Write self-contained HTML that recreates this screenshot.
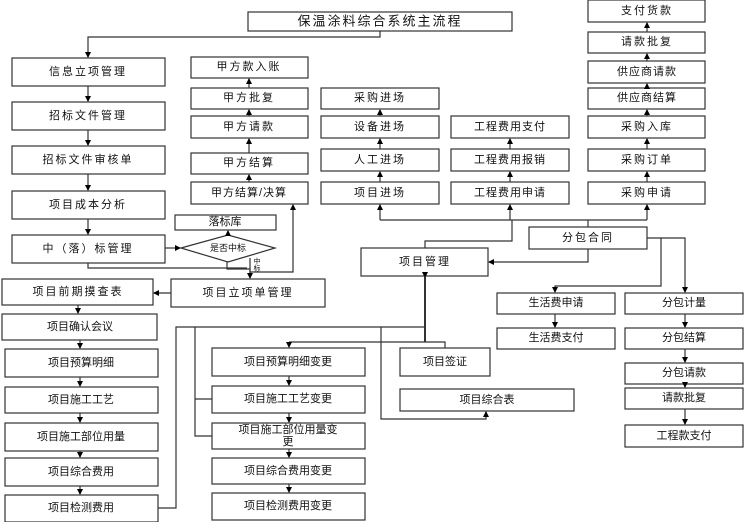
<html><head><style>body{margin:0;background:#fff}svg text{font-family:"Liberation Sans","Noto Sans CJK SC",sans-serif;font-size:11px;text-anchor:middle;dominant-baseline:central;fill:#111}</style></head><body>
<svg width="744" height="522" viewBox="0 0 744 522" xmlns="http://www.w3.org/2000/svg">
<defs><marker id="a" markerWidth="6" markerHeight="6" refX="5" refY="3" orient="auto" markerUnits="userSpaceOnUse"><path d="M0,0L6,3L0,6z" fill="#000"/></marker></defs>
<g fill="#fff" stroke="#333" stroke-width="1.2">
<rect x="248" y="12" width="264" height="19"/>
<rect x="12" y="58" width="153" height="28"/><rect x="12" y="102" width="153" height="28"/><rect x="12" y="146" width="153" height="28"/><rect x="12" y="191" width="153" height="28"/><rect x="12" y="235" width="153" height="28"/>
<rect x="175" y="215" width="101" height="15"/>
<path d="M181,248L228,235L275,248L228,262z"/>
<rect x="171" y="279" width="154" height="28"/><rect x="2" y="279" width="151" height="26"/>
<rect x="191" y="57" width="117" height="21"/><rect x="191" y="88" width="117" height="21"/><rect x="191" y="116" width="117" height="22"/><rect x="191" y="153" width="117" height="21"/><rect x="191" y="182" width="117" height="22"/>
<rect x="321" y="88" width="118" height="21"/><rect x="321" y="116" width="118" height="22"/><rect x="321" y="149" width="118" height="22"/><rect x="321" y="182" width="118" height="22"/>
<rect x="451" y="116" width="118" height="22"/><rect x="451" y="149" width="118" height="22"/><rect x="451" y="182" width="118" height="22"/>
<rect x="588" y="0" width="117" height="22"/><rect x="588" y="32" width="117" height="21"/><rect x="588" y="61" width="117" height="22"/><rect x="588" y="88" width="117" height="21"/><rect x="588" y="116" width="117" height="22"/><rect x="588" y="149" width="117" height="22"/><rect x="588" y="182" width="117" height="22"/>
<rect x="529" y="227" width="118" height="22"/><rect x="361" y="248" width="127" height="28"/>
<rect x="497" y="293" width="118" height="21"/><rect x="497" y="328" width="118" height="21"/>
<rect x="625" y="293" width="118" height="21"/><rect x="625" y="328" width="118" height="21"/><rect x="625" y="363" width="118" height="21"/><rect x="625" y="388" width="118" height="21"/><rect x="625" y="425" width="118" height="22"/>
<rect x="2" y="314" width="155" height="26"/><rect x="5" y="349" width="153" height="28"/><rect x="5" y="387" width="153" height="26"/><rect x="5" y="423" width="153" height="28"/><rect x="5" y="458" width="153" height="28"/><rect x="5" y="495" width="153" height="27"/>
<rect x="212" y="348" width="153" height="28"/><rect x="212" y="386" width="153" height="27"/><rect x="212" y="423" width="153" height="26"/><rect x="212" y="458" width="153" height="26"/><rect x="212" y="493" width="153" height="27"/>
<rect x="400" y="348" width="90" height="28"/><rect x="400" y="389" width="174" height="22"/>
</g>
<g fill="none" stroke="#333" stroke-width="1.2">
<path d="M380,31V37H88V57" marker-end="url(#a)"/>
<path d="M88,86V101" marker-end="url(#a)"/><path d="M88,130V145" marker-end="url(#a)"/><path d="M88,174V190" marker-end="url(#a)"/><path d="M88,219V234" marker-end="url(#a)"/>
<path d="M165,248H180" marker-end="url(#a)"/><path d="M228,235V231" marker-end="url(#a)"/>
<path d="M88,263V268H247"/><path d="M227,262V269H250V278" marker-end="url(#a)"/><path d="M250,258V272H293V205" marker-end="url(#a)"/>
<path d="M171,293H154" marker-end="url(#a)"/>
<path d="M249,182V175" marker-end="url(#a)"/><path d="M249,153V139" marker-end="url(#a)"/><path d="M249,116V110" marker-end="url(#a)"/><path d="M249,88V79" marker-end="url(#a)"/>
<path d="M380,182V172" marker-end="url(#a)"/><path d="M380,149V139" marker-end="url(#a)"/><path d="M380,116V110" marker-end="url(#a)"/>
<path d="M510,182V172" marker-end="url(#a)"/><path d="M510,149V139" marker-end="url(#a)"/>
<path d="M647,182V172" marker-end="url(#a)"/><path d="M647,149V139" marker-end="url(#a)"/><path d="M647,116V110" marker-end="url(#a)"/><path d="M647,88V84" marker-end="url(#a)"/><path d="M647,61V54" marker-end="url(#a)"/><path d="M647,32V23" marker-end="url(#a)"/>
<path d="M380,220H647"/><path d="M380,220V205" marker-end="url(#a)"/><path d="M510,220V205" marker-end="url(#a)"/><path d="M647,220V205" marker-end="url(#a)"/>
<path d="M588,227V220"/><path d="M425,248V241H512V220"/><path d="M588,249V262H489" marker-end="url(#a)"/>
<path d="M647,238H661V286H555V292" marker-end="url(#a)"/><path d="M661,238H685V292" marker-end="url(#a)"/>
<path d="M555,314V327" marker-end="url(#a)"/>
<path d="M685,314V327" marker-end="url(#a)"/><path d="M685,349V362" marker-end="url(#a)"/><path d="M685,384V387" marker-end="url(#a)"/><path d="M685,409V424" marker-end="url(#a)"/>
<path d="M78,305V313" marker-end="url(#a)"/><path d="M80,340V348" marker-end="url(#a)"/><path d="M80,377V386" marker-end="url(#a)"/><path d="M80,413V422" marker-end="url(#a)"/><path d="M80,451V457" marker-end="url(#a)"/><path d="M80,486V494" marker-end="url(#a)"/>
<path d="M289,376V385" marker-end="url(#a)"/><path d="M289,413V422" marker-end="url(#a)"/><path d="M289,449V457" marker-end="url(#a)"/><path d="M289,484V492" marker-end="url(#a)"/>
<path d="M425,277V342" stroke-width="2" marker-start="url(#a)"/><path d="M425,327H176V508H158"/>
<path d="M195,327V436H212M195,399H212"/>
<path d="M289,342H445V348M289,342V347" marker-end="url(#a)"/>
<path d="M381,327V419H486V412" marker-end="url(#a)"/>
</g>
<text x="380" y="21" style="font-size:13px;letter-spacing:2px">保温涂料综合系统主流程</text>
<text x="88" y="72" style="letter-spacing:2px">信息立项管理</text><text x="88" y="116" style="letter-spacing:2px">招标文件管理</text><text x="88" y="160" style="letter-spacing:2px">招标文件审核单</text><text x="88" y="205" style="letter-spacing:2px">项目成本分析</text><text x="88" y="249" style="letter-spacing:2px">中（落）标管理</text>
<text x="225" y="222">落标库</text><text x="228" y="248" style="font-size:9px">是否中标</text>
<text x="257" y="262" style="font-size:7px">中</text><text x="257" y="269" style="font-size:7px">标</text>
<text x="248" y="293" style="letter-spacing:2px">项目立项单管理</text><text x="78" y="292" style="letter-spacing:2px">项目前期摸查表</text>
<text x="249" y="67" style="letter-spacing:2px">甲方款入账</text><text x="249" y="98" style="letter-spacing:2px">甲方批复</text><text x="249" y="127" style="letter-spacing:2px">甲方请款</text><text x="249" y="163" style="letter-spacing:2px">甲方结算</text><text x="249" y="193" style="letter-spacing:1px">甲方结算/决算</text>
<text x="380" y="98" style="letter-spacing:2px">采购进场</text><text x="380" y="127" style="letter-spacing:2px">设备进场</text><text x="380" y="160" style="letter-spacing:2px">人工进场</text><text x="380" y="193" style="letter-spacing:2px">项目进场</text>
<text x="510" y="127" style="letter-spacing:1px">工程费用支付</text><text x="510" y="160" style="letter-spacing:1px">工程费用报销</text><text x="510" y="193" style="letter-spacing:1px">工程费用申请</text>
<text x="647" y="11" style="letter-spacing:2px">支付货款</text><text x="647" y="42" style="letter-spacing:2px">请款批复</text><text x="647" y="72" style="letter-spacing:1px">供应商请款</text><text x="647" y="98" style="letter-spacing:1px">供应商结算</text><text x="647" y="127" style="letter-spacing:2px">采购入库</text><text x="647" y="160" style="letter-spacing:2px">采购订单</text><text x="647" y="193" style="letter-spacing:2px">采购申请</text>
<text x="588" y="238" style="letter-spacing:2px">分包合同</text><text x="425" y="262" style="letter-spacing:2px">项目管理</text>
<text x="556" y="303">生活费申请</text><text x="556" y="338">生活费支付</text>
<text x="684" y="303">分包计量</text><text x="684" y="338">分包结算</text><text x="684" y="373">分包请款</text><text x="684" y="398">请款批复</text><text x="684" y="436">工程款支付</text>
<text x="80" y="327">项目确认会议</text><text x="81" y="363">项目预算明细</text><text x="81" y="400">项目施工工艺</text><text x="81" y="437">项目施工部位用量</text><text x="81" y="472">项目综合费用</text><text x="81" y="508">项目检测费用</text>
<text x="288" y="362">项目预算明细变更</text><text x="288" y="399">项目施工工艺变更</text><text x="288" y="430">项目施工部位用量变</text><text x="288" y="442">更</text><text x="288" y="471">项目综合费用变更</text><text x="288" y="506">项目检测费用变更</text>
<text x="445" y="362">项目签证</text><text x="487" y="400">项目综合表</text>
</svg></body></html>
